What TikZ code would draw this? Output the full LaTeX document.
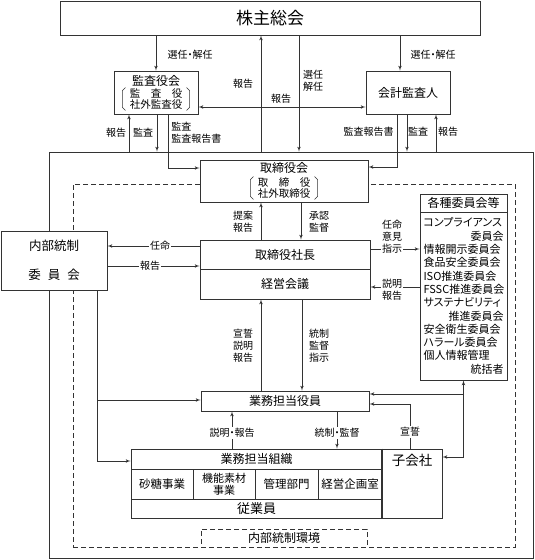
\documentclass[tikz,border=0pt]{standalone}
\usepackage{fontspec}
\setmainfont{Noto Sans CJK JP}[RawFeature=+palt]
\usetikzlibrary{positioning,arrows}
\definecolor{linie}{gray}{0.2}
\tikzset {
organ/.style={shape=rectangle,draw=linie,fill=white,inner sep=0pt},
note/.style={inner sep=1pt,align=center,font=\fontsize{10}{12}\selectfont},
mitglieder/.style={inner xsep=5pt,inner ysep=1pt,align=center,font=\fontsize{10.5}{10.5}\selectfont}
}
\newcommand{\klammer}[1]{%
\draw[line width=0.5pt] ([xshift=1pt]#1.north west) -- ++(-3,3) -- ([xshift=-2pt,yshift=3pt]#1.south west) -- ++(3,3);
\draw[line width=0.5pt] ([xshift=-1pt]#1.north east) -- ++(3,3) -- ([xshift=2pt,yshift=3pt]#1.south east) -- ++(-3,3);}
\newcommand{\rechts}[1]{\makebox[80pt][r]{#1}}

\begin{document}
\begin{tikzpicture}
[>=latex',x=1pt,y=-1pt,line width=0.7pt,draw=linie,font=\fontsize{12}{14}\selectfont]
\useasboundingbox (0,0) rectangle (535,560);
\node[draw=linie,minimum width=484,minimum height=406] (company) at (291,355) {};
\node[draw=linie,dash pattern=on 5pt off 3pt,minimum width=442,minimum height=363] (control area) at (294,365.5) {};

\node[organ,minimum width=420,minimum height=34,font=\fontsize{17}{17}\selectfont] (shareholders) at (270,18) {株主総会};
\node[organ,minimum width=84,minimum height=43] (audit board) at (156,92.5) {};
\node (audit board title) at (156,81) {監査役会};
\node[mitglieder] (audit board members) at (156,99) {\makebox[5em][s]{監\hfill 査\hfill 役}\\社外監査役};
\klammer{audit board members}
\node[organ,minimum width=84,minimum height=43] (auditor) at (408,92.5) {会計監査人};

\node[organ,minimum width=168,minimum height=42] (board) at (284,181) {};
\node (board title) at (284,168) {取締役会};
\node[mitglieder] (board members) at (284,188) {\makebox[5em][s]{取\hfill 締\hfill 役}\\社外取締役};
\klammer{board members}

\node[organ,minimum width=170,minimum height=29] (president) at (285,254.5) {取締役社長};
\node[organ,minimum width=170,minimum height=30] (management meeting) at (285,284) {経営会議};
\node[organ,minimum width=87,minimum height=18] (committees head) at (463.5,203) {各種委員会等};
\node[organ,minimum width=87,minimum height=168,text width=80pt,align=left,font=\fontsize{11}{13.3}\selectfont] (committees list) at (463.5,296)
{コンプライアンス\\\rechts{委員会}\\情報開示委員会\\食品安全委員会\\ISO推進委員会\\FSSC推進委員会\\サステナビリティ\\\rechts{推進委員会}\\安全衛生委員会\\ハラール委員会\\個人情報管理\\\rechts{統括者}};
\node[organ,minimum width=106,minimum height=59,align=center,font=\fontsize{12.5}{29}\selectfont] (internal control) at (54,260.5) {内部統制\\委\hspace{7pt}員\hspace{7pt}会};

\node[organ,minimum width=168,minimum height=20] (officers) at (285,401) {業務担当役員};
\node[organ,minimum width=251,minimum height=20] (business org) at (256.5,459) {業務担当組織};
\node[organ,minimum width=62,minimum height=30,font=\fontsize{11.5}{12}\selectfont] (sugar) at (162,484) {砂糖事業};
\node[organ,minimum width=62,minimum height=30,align=center,font=\fontsize{11}{12}\selectfont] (materials) at (224,484) {機能素材\\事業};
\node[organ,minimum width=63,minimum height=30,font=\fontsize{11.5}{12}\selectfont] (admin) at (286.5,484) {管理部門};
\node[organ,minimum width=64,minimum height=30,font=\fontsize{11.5}{12}\selectfont] (planning) at (350,484) {経営企画室};
\node[organ,minimum width=251,minimum height=19,font=\fontsize{13}{13}\selectfont] (employees) at (256.5,508.5) {従業員};
\node[organ,minimum width=60,minimum height=69] (subsidiaries) at (412,483.5) {};
\node[font=\fontsize{13.5}{14}\selectfont] (subsidiaries text) at (412,460) {子会社};
\draw[line width=2pt] (subsidiaries.north west) -- (subsidiaries.south west);
\node[organ,dash pattern=on 5pt off 3pt,minimum width=166,minimum height=18] (environment) at (284,538) {内部統制環境};

\draw[->] (156,0 |- shareholders.south) -- (156,0 |- audit board.north);
\node[note] (wahl links) at (190,55) {選任・解任};
\draw[->] (261,0 |- company.north) -- (261,0 |- shareholders.south);
\node[note] (bericht oben) at (243,84) {報告};
\draw[->] (299,0 |- shareholders.south) -- (299,0 |- company.north);
\node[note] (wahl mitte) at (313,81) {選任\\解任};
\draw[->] (400,0 |- shareholders.south) -- (400,0 |- auditor.north);
\node[note] (wahl rechts) at (433,55) {選任・解任};
\draw[<->] (audit board.east |- 0,107) -- (auditor.west |- 0,107);
\node[note] (bericht mitte) at (281,99) {報告};

\draw[->] (129,0 |- company.north) -- (129,0 |- audit board.south);
\node[note] (bericht kl) at (116,133) {報告};
\draw[->] (157,0 |- audit board.south) -- (157,0 |- company.north);
\node[note] (pruefung kl) at (143,133) {監査};
\draw[->] (168,0 |- audit board.south) |- (board.west |- 0,168);
\node[note,align=left,anchor=west] (pruefbericht kl) at (170,133) {監査\\監査報告書};
\draw[->] (397,0 |- auditor.south) |- (board.east |- 0,167);
\node[note,anchor=east] (pruefbericht kp) at (395,132) {監査報告書};
\draw[->] (407,0 |- auditor.south) -- (407,0 |- company.north);
\node[note] (pruefung kp) at (418,132) {監査};
\draw[->] (436,0 |- company.north) -- (436,0 |- auditor.south);
\node[note] (bericht kp) at (448,132) {報告};

\draw[->] (261,0 |- president.north) -- (261,0 |- board.south);
\node[note] (vorschlag) at (243,222) {提案\\報告};
\draw[->] (301,0 |- board.south) -- (301,0 |- president.north);
\node[note] (genehmigung) at (319,222) {承認\\監督};
\draw[->] (261,0 |- officers.north) -- (261,0 |- management meeting.south);
\node[note] (gelobnis) at (243,346) {宣誓\\説明\\報告};
\draw[->] (302,0 |- management meeting.south) -- (302,0 |- officers.north);
\node[note] (steuerung) at (319,346) {統制\\監督\\指示};

\draw[->] (president.east |- 0,249) -- (committees list.west |- 0,249);
\node[note,fill=white] (auftrag) at (392,237) {任命\\意見\\指示};
\draw[->] (committees list.west |- 0,287) -- (management meeting.east |- 0,287);
\node[note,fill=white] (erklaerung) at (392,290) {説明\\報告};

\draw[->] (president.west |- 0,246) -- (internal control.east |- 0,246);
\node[note,fill=white] (ernennung) at (160,246) {任命};
\draw[->] (internal control.east |- 0,266) -- (president.west |- 0,266);
\node[note,fill=white] (meldung) at (150,266) {報告};

\coordinate (abzweig links) at (97,400);
\draw[->] (97,0 |- internal control.south) |- (business org.west |- 0,461);
\draw[->] (abzweig links) -- (officers.west |- abzweig links);

\draw[->] (232,0 |- business org.north) -- (232,0 |- officers.south);
\node[note,fill=white] (bericht unten) at (232,433) {説明・報告};
\draw[->] (337,0 |- officers.south) -- (337,0 |- business org.north);
\node[note,fill=white] (aufsicht unten) at (337,433) {統制・監督};
\draw[->] (410,0 |- subsidiaries.north) |- (officers.east |- 0,404);
\node[note,fill=white] (eid) at (410,432) {宣誓};

\coordinate (abzweig rechts) at (committees list.south |- 0,394);
\draw[<->] (committees list.south) |- (subsidiaries.east |- 0,457);
\draw[->] (abzweig rechts) -- (officers.east |- abzweig rechts);
\end{tikzpicture}
\end{document}
